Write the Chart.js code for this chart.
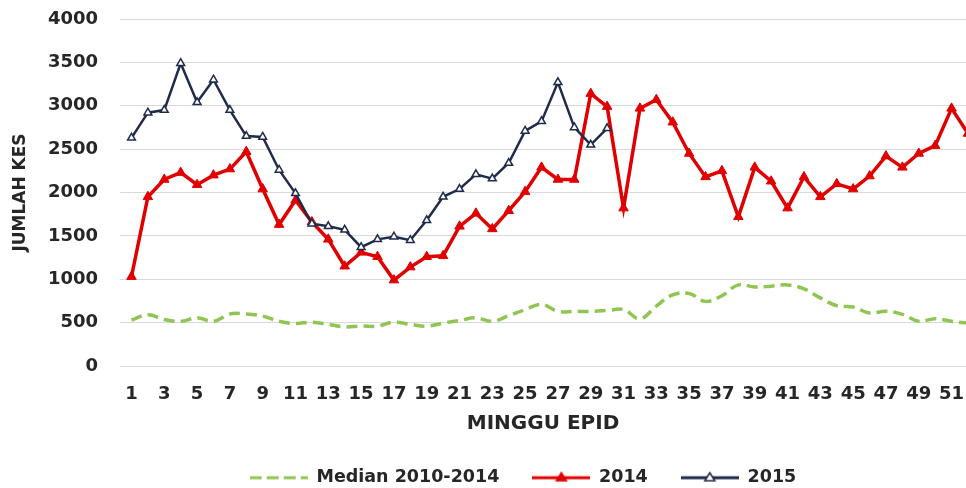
<!DOCTYPE html>
<html>
<head>
<meta charset="utf-8">
<script src="https://cdn.jsdelivr.net/npm/chart.js@4.4.1/dist/chart.umd.min.js"></script>
<style>
body{margin:0;background:#fff}
#wrap{width:966px;height:488px}
</style>
</head>
<body>
<div id="wrap"><canvas id="myChart"></canvas></div>
<script>
var weeks = [1,2,3,4,5,6,7,8,9,10,11,12,13,14,15,16,17,18,19,20,21,22,23,24,25,26,
             27,28,29,30,31,32,33,34,35,36,37,38,39,40,41,42,43,44,45,46,47,48,49,50,51,52]
var xTicks = [1,3,5,7,9,11,13,15,17,19,21,23,25,27,29,31,33,35,37,39,41,43,45,47,49,51]
var yTicks = [0,500,1000,1500,2000,2500,3000,3500,4000]

var median = [530,590,535,515,555,515,600,600,575,515,490,505,480,450,460,460,505,480,460,495,525,555,515,580,650,710,
              630,630,630,640,650,545,690,820,835,745,810,935,910,920,935,890,785,695,680,610,630,595,515,545,515,495]
var cases2014 = [1030,1950,2150,2230,2090,2200,2270,2470,2040,1630,1910,1660,1460,1150,1310,1260,990,1140,1260,1270,
                 1610,1760,1580,1790,2010,2290,2150,2150,3140,2990,1820,2970,3070,2810,2450,2180,2250,1720,2290,2130,
                 1820,2180,1950,2100,2040,2190,2420,2290,2450,2540,2970,2680]
var cases2015 = [2630,2920,2950,3490,3040,3300,2950,2650,2640,2260,1990,1640,1610,1570,1370,1460,1490,1450,1680,1950,
                 2040,2210,2160,2340,2710,2820,3270,2750,2550,2740]

var green = '#8fc653'
var red = '#e00000'
var navy = '#1f2b4a'
var ink = '#262626'
var font = 'DejaVu Sans'

function pair(values){
    return values.map(function(v,i){ return {x: weeks[i], y: v} })
}

// little line+marker images for the legend
function swatch(color, dash, marker){
    var c = document.createElement('canvas')
    c.width = 58
    c.height = 14
    var g = c.getContext('2d')
    g.strokeStyle = color
    g.lineWidth = 3
    g.setLineDash(dash)
    g.beginPath()
    g.moveTo(0,7)
    g.lineTo(58,7)
    g.stroke()
    g.setLineDash([])
    if(marker){
        g.beginPath()
        g.moveTo(29,2)
        g.lineTo(34,10)
        g.lineTo(24,10)
        g.closePath()
        g.fillStyle = marker == 'open' ? '#fff' : color
        g.fill()
        g.lineWidth = 1.5
        g.stroke()
    }
    return c
}
var swatches = [swatch(green,[12,5]), swatch(red,[], 'filled'), swatch(navy,[], 'open')]

// legend sits lower and a bit to the right, like the original
var legendTweak = {
    id: 'legendTweak',
    afterInit: function(chart){
        var lg = chart.legend
        var fit = lg.fit
        lg.fit = function(){
            fit.call(this)
            this.height = 52
        }
    },
    afterLayout: function(chart){
        var lg = chart.legend
        lg.left += 40
        lg.right += 40
    }
}

const ctx = document.getElementById('myChart')
const myChart = new Chart(ctx, {
    type: 'line',
    data: {
        datasets: [{
            label: 'Median 2010-2014',
            data: pair(median),
            borderColor: green,
            backgroundColor: green,
            borderWidth: 3.5,
            borderDash: [11,6],
            pointRadius: 0,
            tension: 0.4,
            fill: false,
            order: 2
        },{
            label: '2014',
            data: pair(cases2014),
            borderColor: red,
            backgroundColor: red,
            borderWidth: 3.5,
            pointStyle: 'triangle',
            pointRadius: 5.5,
            pointBackgroundColor: red,
            pointBorderColor: red,
            pointBorderWidth: 1,
            fill: false,
            order: 1
        },{
            label: '2015',
            data: pair(cases2015),
            borderColor: navy,
            backgroundColor: navy,
            borderWidth: 2.5,
            pointStyle: 'triangle',
            pointRadius: 4.5,
            pointBackgroundColor: '#fff',
            pointBorderColor: navy,
            pointBorderWidth: 1.5,
            fill: false,
            order: 0
        }]
    },
    options: {
        responsive: true,
        maintainAspectRatio: false,
        animation: false,
        layout: {autoPadding: false, padding: {top: 19, right: 0, bottom: 0, left: 0}},
        scales: {
            x: {
                type: 'linear',
                min: 0.3,
                max: 51.88,
                grid: {display: false},
                border: {display: false},
                afterBuildTicks: function(axis){ axis.ticks = xTicks.map(function(v){ return {value: v} }) },
                afterFit: function(axis){
                    axis.height = 70
                    axis.paddingLeft = 0
                    axis.paddingRight = 0
                },
                ticks: {
                    autoSkip: false,
                    maxRotation: 0,
                    padding: 10,
                    color: ink,
                    font: {family: font, weight: 'bold', size: 18}
                },
                title: {
                    display: true,
                    text: 'MINGGU EPID',
                    color: ink,
                    padding: {top: 0, bottom: 0},
                    font: {family: font, weight: 'bold', size: 20}
                }
            },
            y: {
                min: 0,
                max: 4000,
                afterBuildTicks: function(axis){ axis.ticks = yTicks.map(function(v){ return {value: v} }) },
                afterFit: function(axis){
                    axis.width = 120
                    axis.paddingTop = 0
                    axis.paddingBottom = 0
                },
                grid: {color: '#d9d9d9', drawTicks: false},
                border: {display: false},
                ticks: {
                    padding: 22,
                    color: ink,
                    font: {family: font, weight: 'bold', size: 18},
                    callback: function(v){ return String(v) }
                },
                title: {
                    display: true,
                    text: 'JUMLAH KES',
                    color: ink,
                    padding: {top: 10, bottom: 0},
                    font: {family: font, weight: 'bold', size: 17}
                }
            }
        },
        plugins: {
            legend: {
                position: 'bottom',
                labels: {
                    usePointStyle: true,
                    pointStyleWidth: 58,
                    boxHeight: 14,
                    padding: 33,
                    color: ink,
                    font: {family: font, weight: 'bold', size: 17.5},
                    sort: function(a,b){ return a.datasetIndex - b.datasetIndex },
                    generateLabels: function(chart){
                        var items = Chart.defaults.plugins.legend.labels.generateLabels(chart)
                        items.forEach(function(it){ it.pointStyle = swatches[it.datasetIndex] })
                        return items
                    }
                }
            },
            tooltip: {enabled: false}
        }
    },
    plugins: [legendTweak]
})
</script>
</body>
</html>
